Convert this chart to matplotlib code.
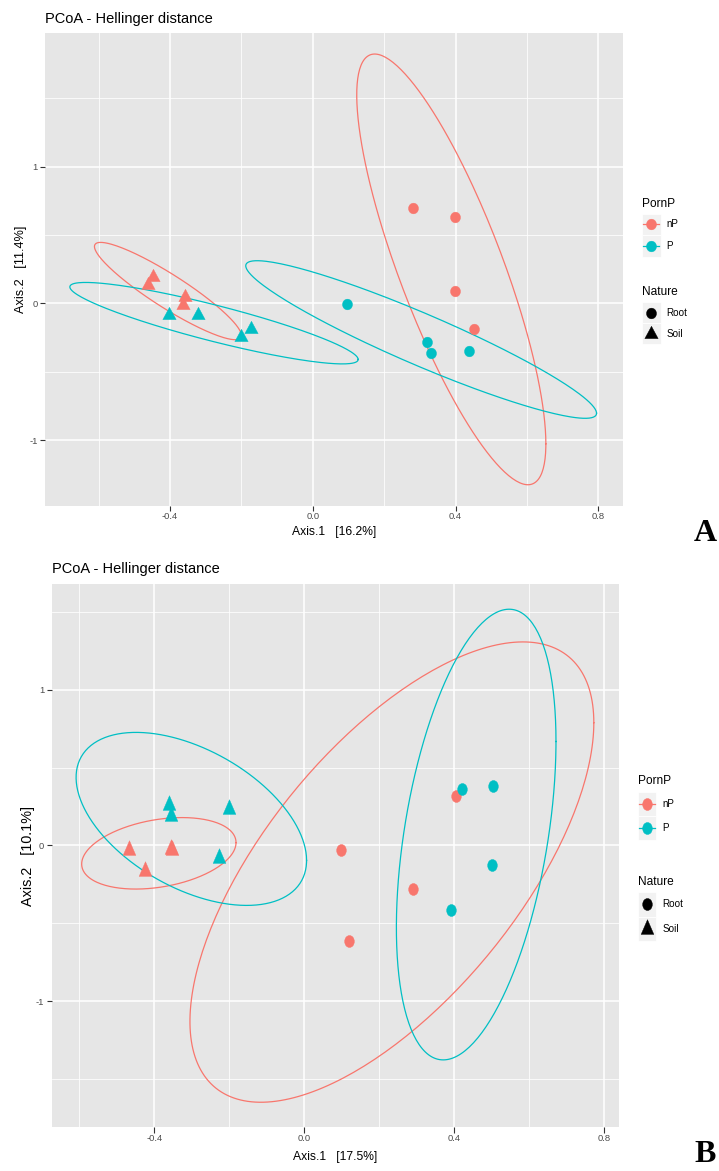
import numpy as np
import matplotlib
matplotlib.use("Agg")
import matplotlib.pyplot as plt
from matplotlib.path import Path
from matplotlib.transforms import Affine2D
from matplotlib.lines import Line2D
from matplotlib.patches import Rectangle

plt.rcParams['font.family'] = ['Liberation Sans', 'DejaVu Sans']

W, H, DPI = 719, 1171, 100

# ---------------- categories / labels ----------------
porn_levels = ['nP', 'P']
nature_levels = ['Root', 'Soil']
porn_colors = ['#F8766D', '#00BFC4']
titles = ['PCoA - Hellinger distance', 'PCoA - Hellinger distance']
xlabels = ['Axis.1   [16.2%]', 'Axis.1   [17.5%]']
ylabels = ['Axis.2   [11.4%]', 'Axis.2   [10.1%]']
panel_tags = ['A', 'B']
xticks = [-0.4, 0.0, 0.4, 0.8]
xtick_labels = ['-0.4', '0.0', '0.4', '0.8']
yticks = [-1, 0, 1]
ytick_labels = ['-1', '0', '1']

# ---------------- panel A data ----------------
A_root_nP_x = [0.281, 0.399, 0.397, 0.453]
A_root_nP_y = [0.700, 0.630, 0.088, -0.186]
A_root_P_x = [0.096, 0.321, 0.332, 0.438]
A_root_P_y = [-0.005, -0.285, -0.365, -0.350]
A_soil_nP_x = [-0.447, -0.463, -0.358, -0.363]
A_soil_nP_y = [0.190, 0.136, 0.049, -0.015]
A_soil_P_x = [-0.403, -0.322, -0.202, -0.173]
A_soil_P_y = [-0.085, -0.085, -0.244, -0.190]

# ellipse parameters (order: Root-nP, Root-P, Soil-nP, Soil-P)
A_ell_cx = [0.388, 0.3035, -0.406, -0.277]
A_ell_cy = [0.2485, -0.2645, 0.090, -0.145]
A_ell_sx = [0.265, 0.4915, 0.206, 0.404]
A_ell_sy = [1.5755, 0.5765, 0.356, 0.298]
A_ell_rho = [-0.81, -0.935, -0.915, -0.89]

# ---------------- panel B data ----------------
B_root_nP_x = [0.097, 0.120, 0.290, 0.406]
B_root_nP_y = [-0.026, -0.616, -0.279, 0.315]
B_root_P_x = [0.392, 0.421, 0.500, 0.504]
B_root_P_y = [-0.416, 0.361, -0.127, 0.382]
B_soil_nP_x = [-0.468, -0.424, -0.353, -0.356]
B_soil_nP_y = [-0.027, -0.163, -0.027, -0.022]
B_soil_P_x = [-0.360, -0.356, -0.202, -0.227]
B_soil_P_y = [0.261, 0.188, 0.234, -0.083]

B_ell_cx = [0.234, 0.459, -0.388, -0.3013]
B_ell_cy = [-0.171, 0.070, -0.0505, 0.1705]
B_ell_sx = [0.539, 0.213, 0.206, 0.3076]
B_ell_sy = [1.478, 1.447, 0.2295, 0.5555]
B_ell_rho = [0.649, 0.413, 0.30, -0.48]


def fxy(px, py):
    return px / W, 1 - py / H


def circle_marker(hw, hh):
    p = Path.unit_circle().transformed(Affine2D().scale(hw, hh))
    return p, 2 * max(hw, hh) * 72 / DPI


def triangle_marker(w, h):
    verts = [(0, 2 * h / 3), (-w / 2, -h / 3), (w / 2, -h / 3), (0, 2 * h / 3)]
    p = Path(verts, [Path.MOVETO, Path.LINETO, Path.LINETO, Path.CLOSEPOLY])
    return p, 2 * max(2 * h / 3, w / 2) * 72 / DPI


def ellipse_xy(cx, cy, sx, sy, rho, n=240):
    cov = np.array([[sx * sx, rho * sx * sy], [rho * sx * sy, sy * sy]])
    L = np.linalg.cholesky(cov)
    t = np.linspace(0, 2 * np.pi, n)
    pts = L @ np.vstack([np.cos(t), np.sin(t)])
    return cx + pts[0], cy + pts[1]


panels = [
    dict(rect=(45, 33.4, 623.3, 506.2), xlim=(-0.7506, 0.870), ylim=(-1.484, 1.975),
         pts={('Root', 'nP'): (A_root_nP_x, A_root_nP_y), ('Root', 'P'): (A_root_P_x, A_root_P_y),
              ('Soil', 'nP'): (A_soil_nP_x, A_soil_nP_y), ('Soil', 'P'): (A_soil_P_x, A_soil_P_y)},
         ell=(A_ell_cx, A_ell_cy, A_ell_sx, A_ell_sy, A_ell_rho),
         circ=circle_marker(5.0, 5.35), tri=triangle_marker(13.3, 12.3),
         title_y=23.4, xlab_y=535.5, ylab_x=20.7, ylab_fs=9.2, xtick_len=3.8,
         leg_x=641.7, leg_w=19.0, leg_lab_x=666.7,
         leg_t1=207.3, leg_rows1=(213.5, 235.0, 256.5),
         leg_t2=295.1, leg_rows2=(302.3, 323.3, 344.4),
         tag_x=694, tag_y=541.0),
    dict(rect=(51.7, 584.3, 619.3, 1126.7), xlim=(-0.674, 0.841), ylim=(-1.806, 1.677),
         pts={('Root', 'nP'): (B_root_nP_x, B_root_nP_y), ('Root', 'P'): (B_root_P_x, B_root_P_y),
              ('Soil', 'nP'): (B_soil_nP_x, B_soil_nP_y), ('Soil', 'P'): (B_soil_P_x, B_soil_P_y)},
         ell=(B_ell_cx, B_ell_cy, B_ell_sx, B_ell_sy, B_ell_rho),
         circ=circle_marker(4.85, 6.0), tri=triangle_marker(12.7, 14.7),
         title_y=573.0, xlab_y=1159.7, ylab_x=28.3, ylab_fs=10.4, xtick_len=4.5,
         leg_x=637.7, leg_w=18.3, leg_lab_x=662.7,
         leg_t1=784.3, leg_rows1=(791.5, 815.6, 839.8),
         leg_t2=885.3, leg_rows2=(892.0, 916.5, 941.0),
         tag_x=694, tag_y=1162.5),
]

fig = plt.figure(figsize=(W / DPI, H / DPI), dpi=DPI)
fig.patch.set_facecolor('white')

ell_groups = [('Root', 'nP'), ('Root', 'P'), ('Soil', 'nP'), ('Soil', 'P')]

for i, P in enumerate(panels):
    l, t, r, b = P['rect']
    ax = fig.add_axes([l / W, 1 - b / H, (r - l) / W, (b - t) / H])
    ax.set_facecolor('#E6E6E6')
    for s in ax.spines.values():
        s.set_visible(False)
    ax.set_xlim(*P['xlim'])
    ax.set_ylim(*P['ylim'])
    ax.set_xticks(xticks)
    ax.set_xticklabels(xtick_labels)
    ax.set_yticks(yticks)
    ax.set_yticklabels(ytick_labels)
    ax.set_xticks([-0.6, -0.2, 0.2, 0.6], minor=True)
    ax.set_yticks([v for v in (-1.5, -0.5, 0.5, 1.5) if P['ylim'][0] < v < P['ylim'][1]], minor=True)
    ax.grid(True, which='major', color='white', linewidth=1.1, zorder=0)
    ax.grid(True, which='minor', color='white', linewidth=0.55, zorder=0)
    ax.set_axisbelow(True)
    ax.tick_params(which='minor', length=0)
    ax.tick_params(axis='x', which='major', length=P['xtick_len'], width=0.8, color='#333333',
                   labelcolor='#4D4D4D', labelsize=6.8, pad=0.6)
    ax.tick_params(axis='y', which='major', length=3.6, width=0.8, color='#333333',
                   labelcolor='#4D4D4D', labelsize=6.8, pad=1.8)

    # ellipses
    cxs, cys, sxs, sys_, rhos = P['ell']
    for k, (nat, pp) in enumerate(ell_groups):
        ex, ey = ellipse_xy(cxs[k], cys[k], sxs[k], sys_[k], rhos[k])
        ax.plot(ex, ey, color=porn_colors[porn_levels.index(pp)], linewidth=0.9, zorder=2)

    # points
    for nat in nature_levels:
        mk, ms = P['circ'] if nat == 'Root' else P['tri']
        for pp, col in zip(porn_levels, porn_colors):
            xs, ys = P['pts'][(nat, pp)]
            ax.plot(xs, ys, linestyle='none', marker=mk, markersize=ms,
                    markerfacecolor=col, markeredgecolor=col, markeredgewidth=0.3, zorder=3)

    # title / axis labels
    fig.text(l / W, 1 - P['title_y'] / H, titles[i], fontsize=10.5, color='black',
             ha='left', va='baseline')
    fig.text((l + r) / 2 / W, 1 - P['xlab_y'] / H, xlabels[i], fontsize=8.7, color='black',
             ha='center', va='baseline')
    fig.text(P['ylab_x'] / W, 1 - (t + b) / 2 / H, ylabels[i], fontsize=P['ylab_fs'],
             color='black', rotation=90, ha='center', va='center')

    # legends
    lx, lw = P['leg_x'], P['leg_w']
    fig.text(lx / W, 1 - P['leg_t1'] / H, 'PornP', fontsize=8.6, ha='left', va='baseline')
    rows = P['leg_rows1']
    cmk, cms = P['circ']
    for k, (pp, col) in enumerate(zip(porn_levels, porn_colors)):
        y0, y1 = rows[k], rows[k + 1]
        fig.add_artist(Rectangle(fxy(lx, y1), lw / W, (y1 - y0) / H, transform=fig.transFigure,
                                 facecolor='#F2F2F2', edgecolor='white', linewidth=0.6))
        yc = (y0 + y1) / 2
        fig.add_artist(Line2D([(lx + 1.5) / W, (lx + lw - 1.5) / W], [1 - yc / H, 1 - yc / H],
                              transform=fig.transFigure, color=col, linewidth=0.9))
        fig.add_artist(Line2D([(lx + lw / 2) / W], [1 - yc / H], transform=fig.transFigure,
                              linestyle='none', marker=cmk, markersize=cms,
                              markerfacecolor=col, markeredgecolor=col, markeredgewidth=0.3))
        fig.text(P['leg_lab_x'] / W, 1 - yc / H, pp, fontsize=7.1, ha='left', va='center')

    fig.text(lx / W, 1 - P['leg_t2'] / H, 'Nature', fontsize=8.6, ha='left', va='baseline')
    rows = P['leg_rows2']
    for k, nat in enumerate(nature_levels):
        y0, y1 = rows[k], rows[k + 1]
        fig.add_artist(Rectangle(fxy(lx, y1), lw / W, (y1 - y0) / H, transform=fig.transFigure,
                                 facecolor='#F2F2F2', edgecolor='white', linewidth=0.6))
        yc = (y0 + y1) / 2
        mk, ms = P['circ'] if nat == 'Root' else P['tri']
        fig.add_artist(Line2D([(lx + lw / 2) / W], [1 - yc / H], transform=fig.transFigure,
                              linestyle='none', marker=mk, markersize=ms,
                              markerfacecolor='black', markeredgecolor='black', markeredgewidth=0.3))
        fig.text(P['leg_lab_x'] / W, 1 - yc / H, nat, fontsize=7.1, ha='left', va='center')

    # panel tag
    fig.text(P['tag_x'] / W, 1 - P['tag_y'] / H, panel_tags[i], fontsize=23.0,
             family=['Liberation Serif', 'DejaVu Serif'], fontweight='bold',
             ha='left', va='baseline')

fig.savefig('out.png', dpi=DPI, facecolor='white')
